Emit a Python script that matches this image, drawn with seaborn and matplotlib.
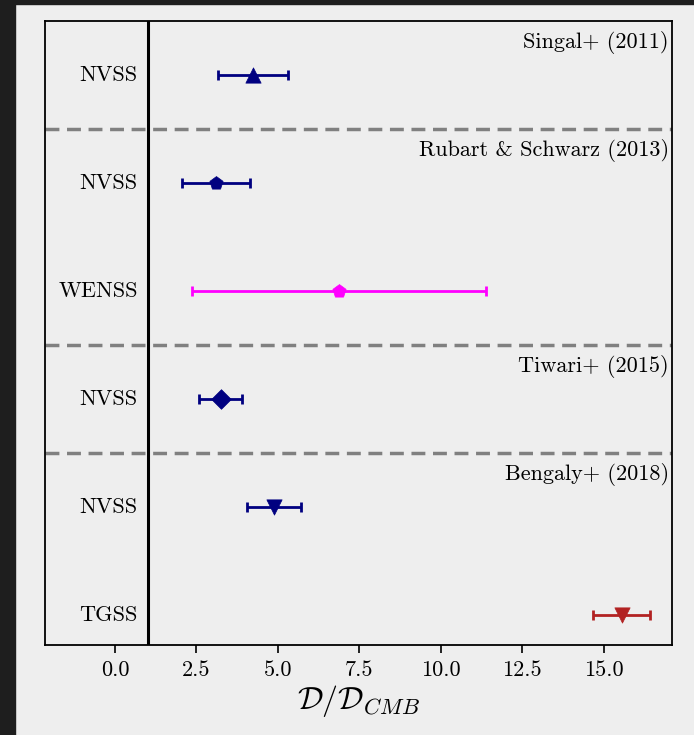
import matplotlib
matplotlib.use("Agg")
import matplotlib.pyplot as plt
import seaborn as sns
import pandas as pd
from matplotlib.patches import Rectangle

# Data
surveys = ["NVSS", "NVSS", "WENSS", "NVSS", "NVSS", "TGSS"]
values = [4.23, 3.10, 6.88, 3.24, 4.88, 15.55]
errors = [1.07, 1.03, 4.52, 0.66, 0.83, 0.87]
colors = ["#000080", "#000080", "#ff00ff", "#000080", "#000080", "#b22222"]
markers = ["^", "p", "p", "D", "v", "v"]
msizes = [11, 10, 10, 10, 11, 11]
studies = ["Singal+ (2011)", "Rubart & Schwarz (2013)", "Tiwari+ (2015)", "Bengaly+ (2018)"]
study_rows = [0, 1, 3, 4]
separators = [0.5, 2.5, 3.5]
xticks = [0.0, 2.5, 5.0, 7.5, 10.0, 12.5, 15.0]

sns.set_style("white")
plt.rcParams.update({
    "font.family": "serif",
    "font.serif": ["cmr10", "DejaVu Serif"],
    "mathtext.fontset": "cm",
    "axes.formatter.use_mathtext": True,
    "axes.unicode_minus": False,
    "text.color": "black",
    "axes.labelcolor": "black",
    "xtick.color": "black",
})

df = pd.DataFrame({"row": range(len(values)), "value": values, "err": errors,
                   "survey": surveys})

fig = plt.figure(figsize=(6.94, 7.35), dpi=100, facecolor="#eeeeee")
ax = fig.add_axes([45/694, 1-645/735, (672-45)/694, (645-21)/735])
ax.set_facecolor("#eeeeee")

# dark screenshot frame
fig.patches.append(Rectangle((0, 0), 15/694, 1, transform=fig.transFigure,
                             color="#1e1e1e", zorder=-10))
fig.patches.append(Rectangle((0, 1-4/735), 1, 4/735, transform=fig.transFigure,
                             color="#1e1e1e", zorder=-10))

for i, r in df.iterrows():
    ax.errorbar(r["value"], r["row"], xerr=r["err"], fmt="none",
                ecolor=colors[i], elinewidth=2, capsize=3.5, capthick=2, zorder=3)
    sns.scatterplot(x=[r["value"]], y=[r["row"]], marker=markers[i],
                    s=msizes[i]**2, color=colors[i], edgecolor=colors[i],
                    linewidth=0.5, ax=ax, zorder=4, legend=False)

ax.axvline(1.0, color="black", lw=2.2, zorder=2)
for s in separators:
    ax.axhline(s, color="#808080", lw=2.5, ls=(0, (4, 2.2)), zorder=2)

for i, name in enumerate(surveys):
    ax.text(0.7, i, name, ha="right", va="center", fontsize=16, color="black")

for name, row in zip(studies, study_rows):
    ax.text(17.0, row - 0.3, name, ha="right", va="center", fontsize=16, color="black")

ax.set_xlim(-2.15, 17.1)
ax.set_ylim(5.28, -0.5)
ax.set_yticks([])
ax.set_xticks(xticks)
ax.set_xticklabels([f"{t:.1f}" for t in xticks], fontsize=16)
ax.tick_params(axis="x", direction="out", length=6, width=1.2, bottom=True, pad=5,
               colors="black")
ax.set_xlabel(r"$\mathcal{D}/\mathcal{D}_{CMB}$", fontsize=23, labelpad=2)
ax.set_ylabel("")
for sp in ax.spines.values():
    sp.set_color("black")
    sp.set_linewidth(1.3)

fig.savefig("out.png", dpi=100, facecolor="#eeeeee")
